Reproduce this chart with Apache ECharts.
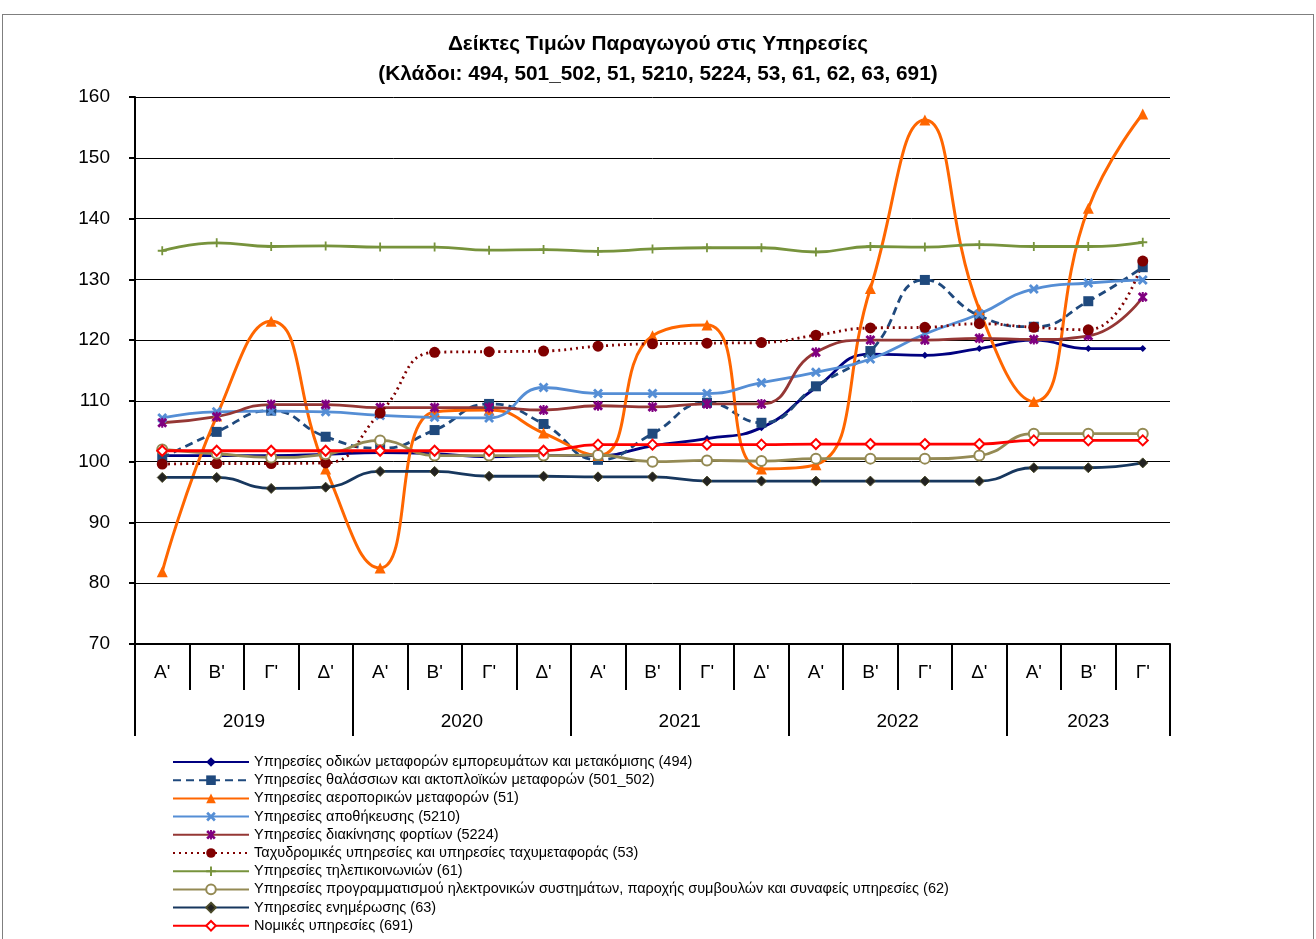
<!DOCTYPE html>
<html>
<head>
<meta charset="utf-8">
<title>Δείκτες Τιμών Παραγωγού στις Υπηρεσίες</title>
<script src="https://cdn.jsdelivr.net/npm/echarts@6/dist/echarts.min.js"></script>
<style>
  html, body { margin: 0; padding: 0; background: #fff; }
  #chart { width: 1316px; height: 939px; }
  .frame {
    position: absolute; left: 2px; top: 14px; width: 1310px; height: 940px;
    border: 1px solid #7f7f7f; pointer-events: none;
  }
</style>
</head>
<body>
<div id="chart"></div>
<div class="frame"></div>
<script>
// τρίμηνα και έτη
const quarters = ["A'", "B'", "Γ'", "Δ'"]
const years = ['2019', '2020', '2021', '2022', '2023']
const quartersPerYear = [4, 4, 4, 4, 3]

// δείκτες ανά κλάδο
const s494 = [101.0, 101.0, 101.0, 101.2, 101.5, 101.3, 100.8, 101.0, 101.0, 102.6, 103.8, 105.6, 112.2, 117.7, 117.5, 118.6, 120.0, 118.6, 118.6]
const s501 = [100.6, 104.9, 108.4, 104.1, 102.2, 105.2, 109.5, 106.2, 100.3, 104.6, 109.7, 106.4, 112.4, 118.2, 129.9, 124.0, 122.2, 126.4, 132.0]
const s51 = [81.9, 107.5, 123.1, 98.8, 82.5, 108.2, 108.5, 104.7, 101.0, 120.7, 122.5, 98.8, 99.5, 128.5, 156.2, 125.0, 109.9, 141.7, 157.2]
const s5210 = [107.2, 108.2, 108.3, 108.2, 107.6, 107.3, 107.2, 112.2, 111.2, 111.2, 111.2, 113.0, 114.7, 116.9, 121.0, 124.3, 128.4, 129.4, 129.9]
const s5224 = [106.4, 107.4, 109.4, 109.4, 108.9, 108.9, 108.9, 108.5, 109.2, 109.0, 109.5, 109.5, 118.0, 120.0, 120.0, 120.3, 120.1, 120.7, 127.1]
const s53 = [99.6, 99.7, 99.7, 99.8, 108.0, 118.0, 118.1, 118.2, 119.0, 119.4, 119.5, 119.6, 120.8, 122.0, 122.1, 122.7, 122.1, 121.7, 133.0]
const s61 = [134.7, 136.0, 135.4, 135.5, 135.3, 135.3, 134.8, 134.9, 134.6, 135.0, 135.2, 135.2, 134.5, 135.4, 135.3, 135.7, 135.4, 135.4, 136.1]
const s62 = [102.0, 101.3, 100.7, 101.2, 103.5, 101.0, 101.0, 101.0, 101.1, 100.0, 100.2, 100.1, 100.5, 100.5, 100.5, 101.0, 104.6, 104.6, 104.6]
const s63 = [97.4, 97.4, 95.6, 95.8, 98.4, 98.4, 97.6, 97.6, 97.5, 97.5, 96.8, 96.8, 96.8, 96.8, 96.8, 96.8, 99.0, 99.0, 99.8]
const s691 = [101.8, 101.8, 101.8, 101.8, 101.8, 101.8, 101.8, 101.8, 102.8, 102.8, 102.8, 102.8, 102.9, 102.9, 102.9, 102.9, 103.5, 103.5, 103.5]

const names = [
  'Υπηρεσίες οδικών μεταφορών εμπορευμάτων και μετακόμισης (494)',
  'Υπηρεσίες θαλάσσιων και ακτοπλοϊκών μεταφορών (501_502)',
  'Υπηρεσίες αεροπορικών μεταφορών (51)',
  'Υπηρεσίες αποθήκευσης (5210)',
  'Υπηρεσίες διακίνησης φορτίων (5224)',
  'Ταχυδρομικές υπηρεσίες και υπηρεσίες ταχυμεταφοράς (53)',
  'Υπηρεσίες τηλεπικοινωνιών (61)',
  'Υπηρεσίες προγραμματισμού ηλεκτρονικών συστημάτων, παροχής συμβουλών και συναφείς υπηρεσίες (62)',
  'Υπηρεσίες ενημέρωσης (63)',
  'Νομικές υπηρεσίες (691)'
]

// άξονας τριμήνων
const quarterCats = []
quartersPerYear.forEach(n => {
  for (let i = 0; i < n; i++) quarterCats.push(quarters[i])
})
// άξονας ετών: μισά βήματα ώστε η ετικέτα να μπαίνει στο μέσο του έτους
const yearCats = new Array(quarterCats.length * 2 + 1).fill('')
const yearBounds = new Set()
let start = 0
quartersPerYear.forEach((n, i) => {
  yearBounds.add(start * 2)
  yearCats[start * 2 + n] = years[i]
  start += n
})
yearBounds.add(start * 2)

const FONT = 'Liberation Sans'
const crossPath = 'path://M0,2 L2,0 L5,3 L8,0 L10,2 L7,5 L10,8 L8,10 L5,7 L2,10 L0,8 L3,5 Z'
const starPath = 'path://M0,2 L2,0 L5,3 L8,0 L10,2 L7,5 L10,8 L8,10 L5,7 L2,10 L0,8 L3,5 Z M4,0 L6,0 L6,10 L4,10 Z'
const plusPath = 'path://M4,0 L6,0 L6,4 L10,4 L10,6 L6,6 L6,10 L4,10 L4,6 L0,6 L0,4 L4,4 Z'

function line(name, data, color, symbol, size, extra) {
  return Object.assign({
    name: name,
    type: 'line',
    data: data,
    smooth: 0.5,
    symbol: symbol,
    symbolSize: size,
    showAllSymbol: true,
    lineStyle: { color: color, width: 2.8 },
    itemStyle: { color: color },
    emphasis: { disabled: true }
  }, extra || {})
}

const chart = echarts.init(document.getElementById('chart'))
chart.setOption({
  animation: false,
  textStyle: { fontFamily: FONT },
  title: {
    text: 'Δείκτες Τιμών Παραγωγού στις Υπηρεσίες\n(Κλάδοι: 494, 501_502, 51, 5210, 5224, 53, 61, 62, 63, 691)',
    left: 'center',
    top: 24,
    textStyle: { fontFamily: FONT, fontSize: 20.8, fontWeight: 'bold', color: '#000', lineHeight: 30 }
  },
  legend: {
    orient: 'vertical',
    left: 172,
    top: 754,
    padding: 0,
    itemWidth: 76,
    itemHeight: 12,
    itemGap: 2.2,
    data: names,
    textStyle: { fontFamily: FONT, fontSize: 14.5, lineHeight: 16, color: '#000' }
  },
  grid: { left: 135, right: 146, top: 97, bottom: 295 },
  xAxis: [
    {
      type: 'category',
      data: quarterCats,
      boundaryGap: true,
      axisLine: { show: true, lineStyle: { color: '#000', width: 2 } },
      axisTick: { show: true, interval: 0, length: 46, lineStyle: { color: '#000', width: 2 } },
      axisLabel: { interval: 0, margin: 19, fontSize: 19, color: '#000', fontFamily: FONT }
    },
    {
      type: 'category',
      data: yearCats,
      boundaryGap: false,
      position: 'bottom',
      offset: 46,
      axisLine: { show: false },
      axisTick: {
        show: true,
        interval: (i) => yearBounds.has(i),
        length: 46,
        lineStyle: { color: '#000', width: 2 }
      },
      axisLabel: { interval: 0, margin: 22, fontSize: 19, color: '#000', fontFamily: FONT }
    }
  ],
  yAxis: {
    type: 'value',
    min: 70,
    max: 160,
    interval: 10,
    axisLine: { show: true, lineStyle: { color: '#000', width: 2 } },
    axisTick: { show: true, length: 6, lineStyle: { color: '#000', width: 2 } },
    axisLabel: { fontSize: 19, color: '#000', margin: 25, fontFamily: FONT },
    splitLine: { lineStyle: { color: '#000', width: 1 } }
  },
  series: [
    line(names[0], s494, '#000080', 'diamond', 7),
    line(names[1], s501, '#1F497D', 'rect', 10, { lineStyle: { color: '#1F497D', width: 2.8, type: [8, 5] } }),
    line(names[2], s51, '#FF6600', 'triangle', 11, { lineStyle: { color: '#FF6600', width: 3 } }),
    line(names[3], s5210, '#558ED5', crossPath, 10),
    line(names[4], s5224, '#953735', starPath, 10, { itemStyle: { color: '#800080' } }),
    line(names[5], s53, '#800000', 'circle', 11, { lineStyle: { color: '#800000', width: 2.8, type: [2, 4] } }),
    line(names[6], s61, '#77933C', plusPath, 9),
    line(names[7], s62, '#948A54', 'emptyCircle', 10, { itemStyle: { color: '#948A54', borderWidth: 2 } }),
    line(names[8], s63, '#17375E', 'diamond', 10, { itemStyle: { color: '#222', borderColor: '#4a4a2a', borderWidth: 1 } }),
    line(names[9], s691, '#FF0000', 'emptyDiamond', 10, { itemStyle: { color: '#FF0000', borderWidth: 2 } })
  ]
})
</script>
</body>
</html>
